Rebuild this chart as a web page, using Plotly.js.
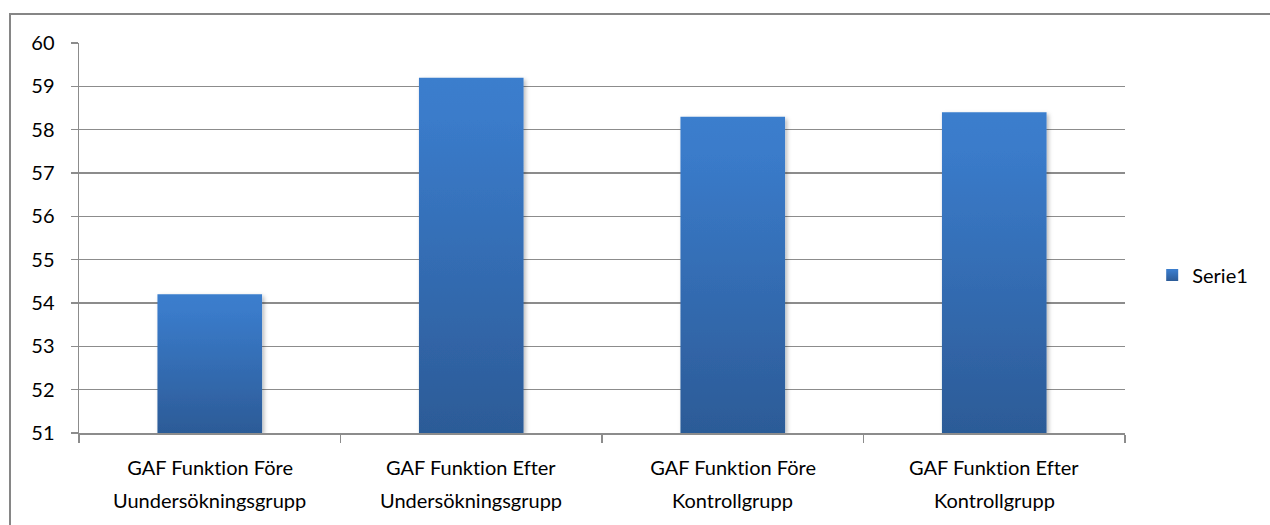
<!DOCTYPE html>
<html>
<head>
<meta charset="utf-8">
<script src="https://cdn.plot.ly/plotly-3.0.1.min.js"></script>
<style>
  html, body { margin: 0; padding: 0; background: #fff; overflow: hidden; }
  #wrap { position: relative; width: 1270px; height: 525px; }
  #chart { width: 1270px; height: 525px; }
  #chart text {
    font-variant-ligatures: none !important;
    font-feature-settings: "liga" 0, "clig" 0 !important;
  }
  #chart .barlayer .point path {
    fill: url(#barGrad) !important;
    filter: url(#barShadow);
  }
  #chart .legendpoints path {
    fill: url(#barGrad) !important;
  }
  #frame {
    position: absolute; left: 9px; top: 13px; width: 2000px; height: 2000px;
    border-top: 2px solid #868686; border-left: 2px solid #868686;
    pointer-events: none;
  }
</style>
</head>
<body>
<svg width="1" height="1" style="position:absolute;left:-10px;top:-10px">
  <defs>
    <linearGradient id="barGrad" x1="0" y1="0" x2="0" y2="1">
      <stop offset="0" stop-color="#3b7ecd"/>
      <stop offset="0.12" stop-color="#3a7bca"/>
      <stop offset="1" stop-color="#2c5b97"/>
    </linearGradient>
    <filter id="barShadow" x="-10%" y="-10%" width="130%" height="130%">
      <feDropShadow dx="2" dy="2" stdDeviation="2" flood-color="#000" flood-opacity="0.28"/>
    </filter>
  </defs>
</svg>
<div id="wrap">
  <div id="chart"></div>
  <div id="frame"></div>
</div>
<script>
// GAF scores per group, before and after
const categories = ['FU', 'EU', 'FK', 'EK'];
const labelLine1 = ['GAF Funktion Före', 'GAF Funktion Efter', 'GAF Funktion Före', 'GAF Funktion Efter'];
const labelLine2 = ['Uundersökningsgrupp', 'Undersökningsgrupp', 'Kontrollgrupp', 'Kontrollgrupp'];
const serie1 = [54.2, 59.2, 58.3, 58.4];
const yTicks = [51, 52, 53, 54, 55, 56, 57, 58, 59, 60];
const seriesName = 'Serie1';

const FONT = 'Lato, "Open Sans", sans-serif';
const TXT = '#000000';
const GRID = '#8c8c8c';
const FS = 20;

// bars rise from the bottom of the value axis up to each score
const Y_MIN = yTicks[0];
const Y_MAX = yTicks[yTicks.length - 1];

const trace = {
  type: 'bar',
  x: categories,
  base: Y_MIN,
  y: serie1.map(v => v - Y_MIN),
  customdata: serie1,
  hovertemplate: '%{customdata}<extra></extra>',
  name: seriesName,
  width: 0.4,
  marker: { color: '#3570b8', line: { width: 0 } },
  showlegend: true
};

// two-line category labels under each bar
const annotations = [];
categories.forEach((c, i) => {
  annotations.push({
    xref: 'x', yref: 'paper', x: c, y: 0, yanchor: 'middle', yshift: -34,
    text: labelLine1[i], showarrow: false, font: { family: FONT, size: FS, color: TXT }
  });
  annotations.push({
    xref: 'x', yref: 'paper', x: c, y: 0, yanchor: 'middle', yshift: -67,
    text: labelLine2[i], showarrow: false, font: { family: FONT, size: FS, color: TXT }
  });
});

const layout = {
  width: 1270,
  height: 525,
  margin: { l: 79, r: 145, t: 43, b: 92 },
  paper_bgcolor: '#ffffff',
  plot_bgcolor: '#ffffff',
  font: { family: FONT, size: FS, color: TXT },
  xaxis: {
    type: 'category',
    showticklabels: false,
    showgrid: false,
    tickson: 'boundaries',
    ticks: 'outside',
    ticklen: 8,
    tickwidth: 1.5,
    tickcolor: GRID,
    showline: true,
    linecolor: GRID,
    linewidth: 1.5,
    zeroline: false
  },
  yaxis: {
    range: [Y_MIN, Y_MAX],
    tickvals: yTicks,
    ticktext: yTicks.map(String),
    showgrid: true,
    gridcolor: GRID,
    gridwidth: 1.5,
    ticks: 'outside',
    ticklen: 7,
    tickwidth: 1.5,
    tickcolor: GRID,
    showline: true,
    linecolor: GRID,
    linewidth: 1.5,
    zeroline: false,
    ticklabelstandoff: 12,
    tickfont: { family: FONT, size: FS, color: TXT }
  },
  legend: {
    x: 1.026, y: 0.405, xanchor: 'left', yanchor: 'middle',
    font: { family: FONT, size: FS, color: TXT },
    bgcolor: 'rgba(0,0,0,0)',
    itemwidth: 30
  },
  annotations: annotations
};

Plotly.newPlot('chart', [trace], layout, { displayModeBar: false, staticPlot: true });
</script>
</body>
</html>
